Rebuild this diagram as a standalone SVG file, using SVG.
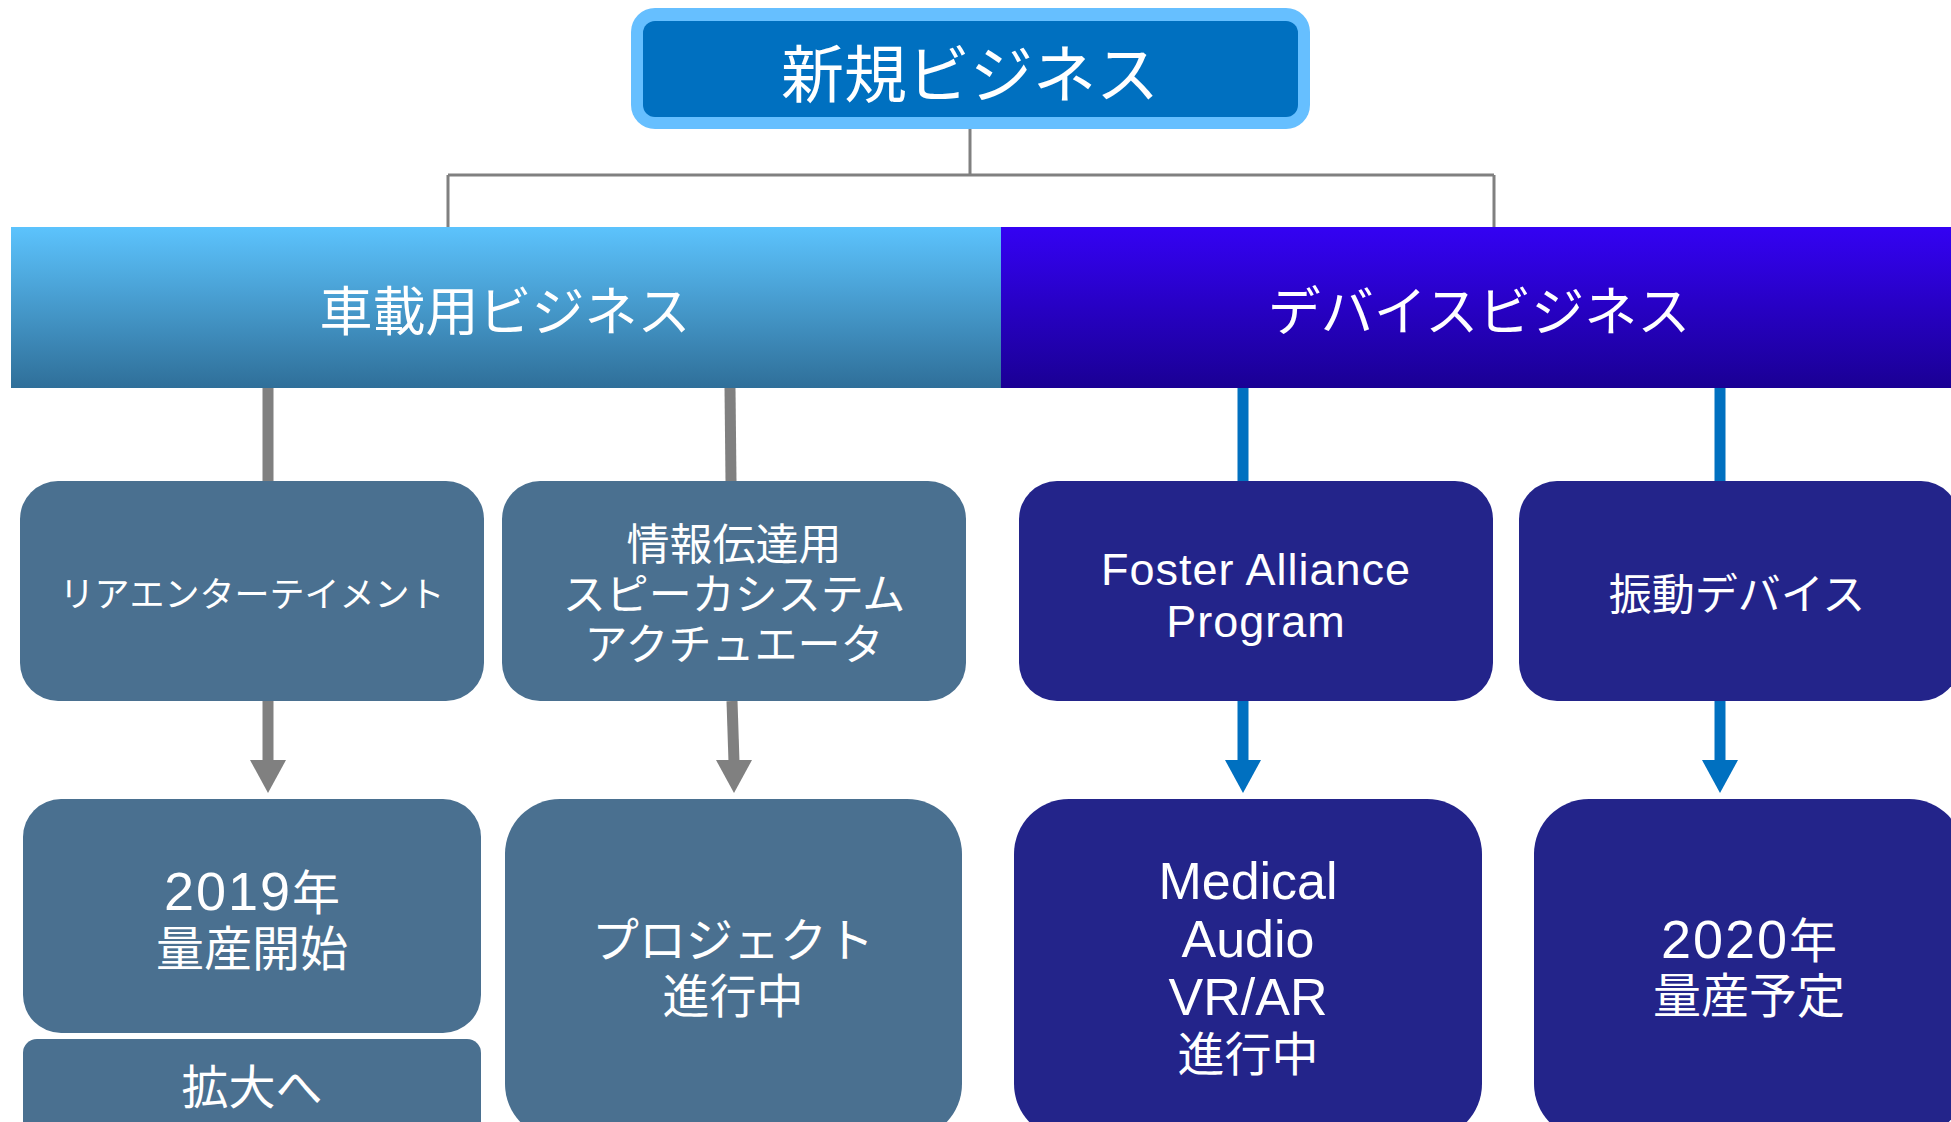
<svg xmlns="http://www.w3.org/2000/svg" width="1951" height="1122" viewBox="0 0 1951 1122">
<style>
text{font-family:"Liberation Sans","Noto Sans CJK JP",sans-serif;fill:#fff;text-anchor:middle}
.slate{fill:#4A7090}
.navy{fill:#23248A}
.gl{stroke:#808080;stroke-width:11;fill:none}
.bl{stroke:#0070C0;stroke-width:11;fill:none}
.thin{stroke:#808080;stroke-width:3;fill:none}
.num{font-size:54px;letter-spacing:2px}
</style>
<defs>
<linearGradient id="gLight" x1="0" y1="0" x2="0" y2="1">
<stop offset="0" stop-color="#5CC3FD"/><stop offset="1" stop-color="#2F6F99"/>
</linearGradient>
<linearGradient id="gDark" x1="0" y1="0" x2="0" y2="1">
<stop offset="0" stop-color="#3402F3"/><stop offset="1" stop-color="#1A0094"/>
</linearGradient>
</defs>
<rect width="1951" height="1122" fill="#fff"/>

<g id="connectors">
<path class="thin" d="M970,117 V175 M448,175 H1494 M448,175 V227 M1494,175 V227"/>
<line class="gl" x1="268" y1="388" x2="268" y2="481"/>
<line class="gl" x1="730" y1="388" x2="731" y2="481"/>
<line class="bl" x1="1243" y1="388" x2="1243" y2="481"/>
<line class="bl" x1="1720" y1="388" x2="1720" y2="481"/>
<path d="M268,701 V762" class="gl"/>
<path d="M268,760 h-18 l18,33 l18,-33 z" fill="#808080"/>
<path d="M732,701 L734,762" class="gl"/>
<path d="M734,760 h-18 l18,33 l18,-33 z" fill="#808080"/>
<path d="M1243,701 V762" class="bl"/>
<path d="M1243,760 h-18 l18,33 l18,-33 z" fill="#0070C0"/>
<path d="M1720,701 V762" class="bl"/>
<path d="M1720,760 h-18 l18,33 l18,-33 z" fill="#0070C0"/>
</g>

<g id="node-root">
<rect x="631" y="8" width="679" height="121" rx="24" fill="#66BFFF"/>
<rect x="643" y="21" width="655" height="96" rx="12" fill="#0070C0"/>
<text x="970" y="97" font-size="63">新規ビジネス</text>
</g>

<g id="node-auto">
<rect x="11" y="227" width="990" height="161" fill="url(#gLight)"/>
<text x="505" y="331" font-size="53">車載用ビジネス</text>
</g>

<g id="node-device">
<rect x="1001" y="227" width="950" height="161" fill="url(#gDark)"/>
<text x="1479" y="331" font-size="53">デバイスビジネス</text>
</g>

<g id="node-rear">
<rect class="slate" x="20" y="481" width="464" height="220" rx="38"/>
<text x="252" y="607" font-size="35">リアエンターテイメント</text>
</g>

<g id="node-info">
<rect class="slate" x="502" y="481" width="464" height="220" rx="38"/>
<text x="734" y="560" font-size="43">情報伝達用</text>
<text x="734" y="610" font-size="43">スピーカシステム</text>
<text x="734" y="660" font-size="43">アクチュエータ</text>
</g>

<g id="node-foster">
<rect class="navy" x="1019" y="481" width="474" height="220" rx="38"/>
<text x="1256" y="585" font-size="45" letter-spacing="1">Foster Alliance</text>
<text x="1256" y="637" font-size="45" letter-spacing="1">Program</text>
</g>

<g id="node-vib">
<rect class="navy" x="1519" y="481" width="440" height="220" rx="38"/>
<text x="1737" y="610" font-size="43">振動デバイス</text>
</g>

<g id="node-2019">
<rect class="slate" x="23" y="799" width="458" height="234" rx="38"/>
<text x="252" y="910" font-size="48"><tspan class="num">2019</tspan>年</text>
<text x="252" y="966" font-size="48">量産開始</text>
</g>

<g id="node-expand">
<rect class="slate" x="23" y="1039" width="458" height="110" rx="14"/>
<text x="252" y="1104" font-size="47">拡大へ</text>
</g>

<g id="node-project">
<rect class="slate" x="505" y="799" width="457" height="340" rx="55"/>
<text x="733" y="957" font-size="47">プロジェクト</text>
<text x="733" y="1013" font-size="47">進行中</text>
</g>

<g id="node-medical">
<rect class="navy" x="1014" y="799" width="468" height="340" rx="55"/>
<text x="1248" y="899" font-size="52">Medical</text>
<text x="1248" y="957" font-size="52">Audio</text>
<text x="1248" y="1015" font-size="52">VR/AR</text>
<text x="1248" y="1071" font-size="47">進行中</text>
</g>

<g id="node-2020">
<rect class="navy" x="1534" y="799" width="430" height="340" rx="55"/>
<text x="1749" y="958" font-size="48"><tspan class="num">2020</tspan>年</text>
<text x="1749" y="1013" font-size="48">量産予定</text>
</g>
</svg>
